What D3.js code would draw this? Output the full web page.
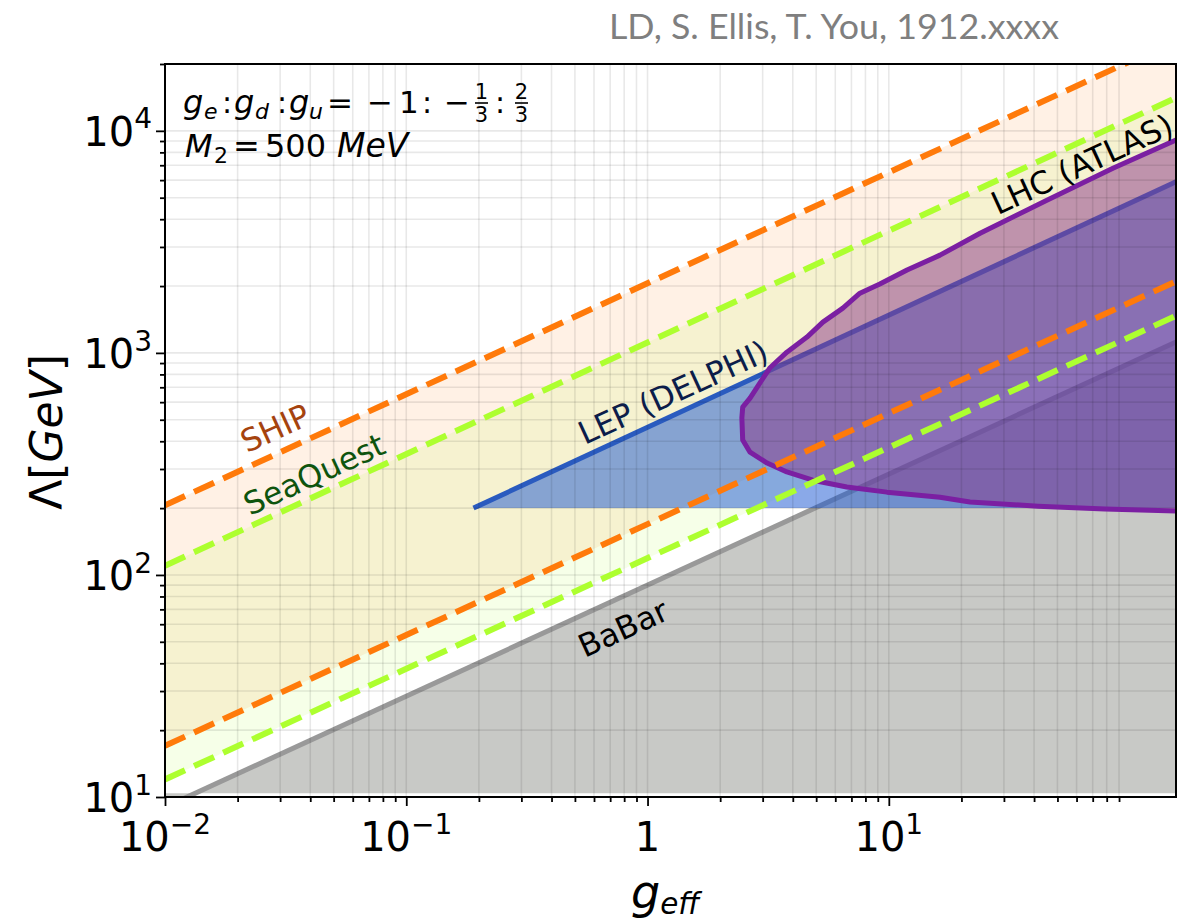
<!DOCTYPE html>
<html><head><meta charset="utf-8">
<script src="https://cdn.jsdelivr.net/npm/d3@7"></script>
<style>html,body{margin:0;padding:0;background:#fff;} svg{display:block;}</style>
</head><body>
<svg id="chart" width="1183" height="920"></svg>
<script>
// Axis ranges
const gRange = [0.01, 155];
const lambdaRange = [10, 2e4];

// Major ticks and their labels (mantissa, exponent)
const xTickValues = [0.01, 0.1, 1, 10];
const xTickLabels = [["10", "−2"], ["10", "−1"], ["1", ""], ["10", "1"]];
const yTickValues = [10, 100, 1000, 10000];
const yTickLabels = [["10", "1"], ["10", "2"], ["10", "3"], ["10", "4"]];

// Power-law reach curves, given at both ends of the coupling range
const lineG = [0.01, 155];
const shipLow = [17, 2100];
const shipHigh = [206, 25600];
const seaQuestLow = [12, 1470];
const seaQuestHigh = [110, 14100];
const babarL = [9.0, 1120];
const babarFloor = 10.4;

// LEP (DELPHI) bound
const lepG = [0.19, 155];
const lepL = [200, 5900];
const lepFloor = 200;

// LHC (ATLAS) excluded contour
const lhcG = [154.9, 84.9, 45.2, 23.9, 16.3, 11.9, 9.18, 7.59, 6.45, 5.33, 4.58, 3.78, 3.21, 2.92, 2.66, 2.48, 2.46,
              2.48, 2.66, 3.13, 3.78, 4.84, 6.70, 9.82, 16.3, 21.7, 41.5, 78.7, 154.9];
const lhcL = [9080, 6790, 4875, 3460, 2756, 2360, 2042, 1858, 1591, 1376, 1178, 1008, 855, 731, 626, 570, 509,
              405, 357, 319, 291, 267, 249, 236, 224, 213, 204, 198, 194];

const svg = d3.select("#chart");
const plotLeft = 165, plotRight = 1176, plotTop = 64, plotBottom = 797;

const x = d3.scaleLog().domain(gRange).range([plotLeft, plotRight]);
const y = d3.scaleLog().domain(lambdaRange).range([plotBottom, plotTop]);

svg.append("defs").append("clipPath").attr("id", "plotclip")
  .append("rect").attr("x", plotLeft).attr("y", plotTop)
  .attr("width", plotRight - plotLeft).attr("height", plotBottom - plotTop);

const plot = svg.append("g").attr("clip-path", "url(#plotclip)");

const pts = (gs, ls) => gs.map((g, i) => ({g: g, l: ls[i]}));
const band = (gs, lo, hi) => gs.map((g, i) => ({g: g, lo: lo[i], hi: hi[i]}));
const lineGen = d3.line().x(d => x(d.g)).y(d => y(d.l));
const areaGen = d3.area().x(d => x(d.g)).y0(d => y(d.lo)).y1(d => y(d.hi));

// SHiP and SeaQuest sensitivity bands
plot.append("path").attr("d", areaGen(band(lineG, shipLow, shipHigh)))
  .attr("fill", "#ff7f0e").attr("fill-opacity", 0.11);
plot.append("path").attr("d", areaGen(band(lineG, seaQuestLow, seaQuestHigh)))
  .attr("fill", "#adff2f").attr("fill-opacity", 0.11);

// BaBar exclusion
plot.append("path").attr("d", areaGen(band(lineG, [babarFloor, babarFloor], babarL)))
  .attr("fill", "#c8c9c6");
plot.append("path").attr("d", lineGen(pts(lineG, babarL)))
  .attr("fill", "none").attr("stroke", "#999999").attr("stroke-width", 5);

// LEP exclusion
plot.append("path").attr("d", areaGen(band(lepG, [lepFloor, lepFloor], lepL)))
  .attr("fill", "#1e5ad2").attr("fill-opacity", 0.52);
plot.append("path").attr("d", lineGen(pts(lepG, lepL)))
  .attr("fill", "none").attr("stroke", "#2a5bbf").attr("stroke-width", 5);

// LHC exclusion
const lhcPts = pts(lhcG, lhcL);
plot.append("path").attr("d", lineGen(lhcPts) + "Z")
  .attr("fill", "#8c3c8c").attr("fill-opacity", 0.52);

// Grid at every decade subdivision
const minorX = [], minorY = [];
for (let d = -2; d <= 1; d++) for (let k = 2; k <= 9; k++) minorX.push(k * Math.pow(10, d));
for (let d = 1; d <= 4; d++) for (let k = 2; k <= 9; k++) {
  const v = k * Math.pow(10, d);
  if (v <= lambdaRange[1]) minorY.push(v);
}
const grid = plot.append("g").attr("stroke", "#000").attr("stroke-opacity", 0.09).attr("stroke-width", 1.6);
xTickValues.concat(minorX).forEach(v => grid.append("line")
  .attr("x1", x(v)).attr("x2", x(v)).attr("y1", plotTop).attr("y2", plotBottom));
yTickValues.concat(minorY).forEach(v => grid.append("line")
  .attr("x1", plotLeft).attr("x2", plotRight).attr("y1", y(v)).attr("y2", y(v)));

plot.append("path").attr("d", lineGen(lhcPts))
  .attr("fill", "none").attr("stroke", "#7b1fa2").attr("stroke-width", 5).attr("stroke-linejoin", "round");

// Dashed reach lines
const dashed = (ls, color) => plot.append("path").attr("d", lineGen(pts(lineG, ls)))
  .attr("fill", "none").attr("stroke", color).attr("stroke-width", 6).attr("stroke-dasharray", "22,10");
dashed(shipHigh, "#ff7a0a");
dashed(seaQuestHigh, "#adff2f");
dashed(shipLow, "#ff7a0a");
dashed(seaQuestLow, "#adff2f");

// Curve labels
const FONT = "DejaVu Sans, sans-serif";
const label = (txt, cx, cy, color) => svg.append("text")
  .attr("transform", `translate(${cx},${cy}) rotate(-24.7)`)
  .attr("text-anchor", "middle").attr("dy", "0.36em")
  .attr("font-family", FONT).attr("font-size", 31.5).attr("fill", color).text(txt);
label("SHIP", 275, 428, "#a5430e");
label("SeaQuest", 314, 474, "#0e540e");
label("LEP (DELPHI)", 673, 392, "#0c1d4a");
label("LHC (ATLAS)", 1082, 164, "#000");
label("BaBar", 623, 628, "#000");

// Axes
const axes = svg.append("g");
axes.append("rect").attr("x", plotLeft).attr("y", plotTop)
  .attr("width", plotRight - plotLeft).attr("height", plotBottom - plotTop)
  .attr("fill", "none").attr("stroke", "#000").attr("stroke-width", 2);

const xAxisMajor = d3.axisBottom(x).tickValues(xTickValues).tickSize(9).tickFormat(() => "");
const xAxisMinor = d3.axisBottom(x).tickValues(minorX).tickSize(5).tickFormat(() => "");
const yAxisMajor = d3.axisLeft(y).tickValues(yTickValues).tickSize(9).tickFormat(() => "");
const yAxisMinor = d3.axisLeft(y).tickValues(minorY).tickSize(5).tickFormat(() => "");
[[xAxisMajor, `translate(0,${plotBottom})`], [xAxisMinor, `translate(0,${plotBottom})`],
 [yAxisMajor, `translate(${plotLeft},0)`], [yAxisMinor, `translate(${plotLeft},0)`]].forEach(([ax, tr]) => {
  const g = axes.append("g").attr("transform", tr).call(ax);
  g.select(".domain").remove();
  g.selectAll(".tick line").attr("stroke", "#000").attr("stroke-width", 1.8);
});

const powerLabel = (sel, parts) => {
  sel.append("tspan").text(parts[0]);
  if (parts[1]) sel.append("tspan").attr("dy", "-0.62em").attr("font-size", "0.7em").text(parts[1]);
};
xTickValues.forEach((v, i) => {
  const t = axes.append("text").attr("x", x(v)).attr("y", 851).attr("text-anchor", "middle")
    .attr("font-family", FONT).attr("font-size", 40).attr("fill", "#000");
  powerLabel(t, xTickLabels[i]);
});
yTickValues.forEach((v, i) => {
  const t = axes.append("text").attr("x", 152).attr("y", y(v) + 15).attr("text-anchor", "end")
    .attr("font-family", FONT).attr("font-size", 40).attr("fill", "#000");
  powerLabel(t, yTickLabels[i]);
});

// Axis titles
const yTitle = svg.append("text").attr("transform", "translate(62,432) rotate(-90)")
  .attr("text-anchor", "middle").attr("font-family", FONT).attr("font-size", 44).attr("fill", "#000");
yTitle.append("tspan").text("Λ[");
yTitle.append("tspan").attr("font-style", "italic").text("GeV");
yTitle.append("tspan").text("]");

const xTitle = svg.append("text").attr("x", 631).attr("y", 908)
  .attr("font-family", FONT).attr("font-size", 46).attr("font-style", "italic").attr("fill", "#000");
xTitle.append("tspan").text("g");
xTitle.append("tspan").attr("font-size", "0.64em").attr("dy", "0.2em").text("eff");

// Coupling ratio and mediator mass annotation
const note = svg.append("g").attr("font-family", FONT).attr("fill", "#000");
const piece = (t, px, py, size, italic, anchor) => note.append("text").attr("x", px).attr("y", py)
  .attr("font-size", size).attr("font-style", italic ? "italic" : "normal")
  .attr("text-anchor", anchor || "start").text(t);
piece("g", 183, 113, 32, true);  piece("e", 204, 119, 22, true);
piece(":", 222, 113, 30, false);
piece("g", 234, 113, 32, true);  piece("d", 255, 119, 22, true);
piece(":", 277, 113, 30, false);
piece("g", 289, 113, 32, true);  piece("u", 309, 119, 22, true);
piece("=", 327, 113, 31, false);
piece("−", 367, 113, 31, false);
piece("1", 399, 113, 31, false);
piece(":", 422, 113, 30, false);
piece("−", 444, 113, 31, false);
piece("1", 481.5, 99, 21, false, "middle");
note.append("line").attr("x1", 475).attr("x2", 488).attr("y1", 103).attr("y2", 103).attr("stroke", "#000").attr("stroke-width", 1.6);
piece("3", 481.5, 122, 21, false, "middle");
piece(":", 495, 113, 30, false);
piece("2", 521.5, 99, 21, false, "middle");
note.append("line").attr("x1", 515).attr("x2", 528).attr("y1", 103).attr("y2", 103).attr("stroke", "#000").attr("stroke-width", 1.6);
piece("3", 521.5, 122, 21, false, "middle");

piece("M", 185, 157, 32, true);  piece("2", 214, 163, 22, false);
piece("=", 233, 157, 32, false);
piece("500", 265, 157, 32, false);
piece("MeV", 337, 157, 33, true);

// Author tag
svg.append("text").attr("x", 609).attr("y", 39)
  .attr("font-family", "Lato, 'Open Sans', sans-serif").attr("font-size", 35).attr("fill", "#7f7f7f")
  .attr("textLength", 450).attr("lengthAdjust", "spacingAndGlyphs")
  .text("LD, S. Ellis, T. You, 1912.xxxx");
</script>
</body></html>
